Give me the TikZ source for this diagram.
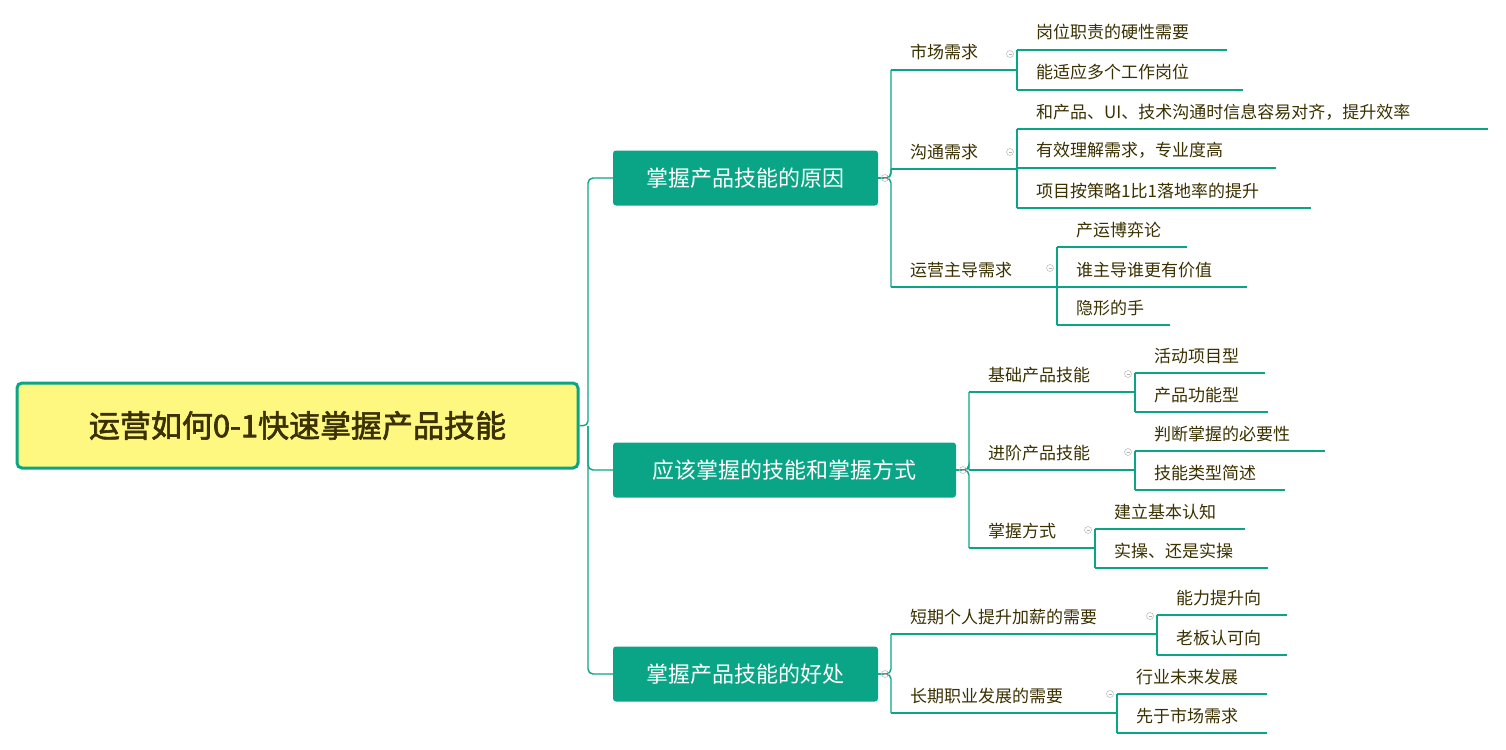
\documentclass[tikz,border=0pt]{standalone}
\usepackage{fontspec}
\setmainfont{Noto Sans CJK SC}[AutoFakeBold=2]
\usetikzlibrary{positioning}
\definecolor{teal1}{HTML}{0AA586}
\definecolor{ink}{HTML}{3A3000}
\tikzset{
  rootbox/.style={draw=teal1,line width=3pt,fill=yellow!50,rounded corners=5pt,
    minimum width=561,minimum height=85,font=\fontsize{31}{36}\selectfont\bfseries,text=ink},
  topic/.style={fill=teal1,rounded corners=3pt,minimum height=55,
    font=\fontsize{22}{26}\selectfont,text=white},
  leaf/.style={font=\fontsize{17}{20}\selectfont,text=ink,inner sep=0pt,anchor=base west},
  branch/.style={draw=teal1,line width=1.4pt,rounded corners=5pt},
  fold/.style={circle,draw=gray!50,line width=0.6pt,minimum size=7,inner sep=0pt,
    path picture={\draw[gray!60,line width=0.6pt] (path picture bounding box.west) ++(2,0) -- ++(3,0);}}
}
\begin{document}
\begin{tikzpicture}[x=1pt,y=-1pt]
\useasboundingbox (0,0) rectangle (1506,749);
% centre and main topics
\node[rootbox] (root) at (297.5,425.5) {运营如何0-1快速掌握产品技能};
\node[topic,minimum width=265] (why) at (745.5,178) {掌握产品技能的原因};
\node[topic,minimum width=343] (how) at (784.5,470) {应该掌握的技能和掌握方式};
\node[topic,minimum width=265] (gain) at (745.5,674) {掌握产品技能的好处};
\coordinate (hub) at (588,426);
\draw[branch] (root.east) -- (hub) |- (why.west);
\draw[branch] (hub) |- (how.west);
\draw[branch] (hub) |- (gain.west);

% underlined items: name/x/y/end/text
\foreach \n/\x/\y/\e/\t in {
  mkt/891/70/1017/市场需求, talk/891/169/1017/沟通需求, lead/891/287/1057/运营主导需求,
  m1/1017/50/1227/岗位职责的硬性需要, m2/1017/90/1243/能适应多个工作岗位,
  t1/1017/129/1488/和产品、UI、技术沟通时信息容易对齐，提升效率,
  t2/1017/168/1276/有效理解需求，专业度高, t3/1017/208/1311/项目按策略1比1落地率的提升,
  l1/1057/247/1187/产运博弈论, l2/1057/287/1247/谁主导谁更有价值, l3/1057/325/1170/隐形的手,
  base/969/392/1135/基础产品技能, adv/969/470/1135/进阶产品技能, way/969/548/1095/掌握方式,
  b1/1135/373/1265/活动项目型, b2/1135/412/1268/产品功能型,
  a1/1135/451/1325/判断掌握的必要性, a2/1135/490/1285/技能类型简述,
  w1/1095/529/1245/建立基本认知, w2/1095/568/1268/实操、还是实操,
  short/891/634/1157/短期个人提升加薪的需要, long/891/713/1117/长期职业发展的需要,
  s1/1157/615/1287/能力提升向, s2/1157/655/1287/老板认可向,
  g1/1117/694/1267/行业未来发展, g2/1117/733/1267/先于市场需求}{
  \coordinate (\n-a) at (\x,\y);
  \coordinate (\n-b) at (\e,\y);
  \draw[branch] (\n-a) -- (\n-b);
  \node[leaf] (\n) at (\x+19,\y-11) {\t};
}

% connectors
\foreach \p/\c in {why/mkt,why/talk,why/lead,how/base,how/adv,how/way,gain/short,gain/long}
  \draw[branch] (\p.east) -| (\c-a);
\foreach \p/\c in {mkt/m1,mkt/m2,talk/t1,talk/t3,lead/l1,lead/l3,
  base/b1,base/b2,adv/a1,adv/a2,way/w1,way/w2,short/s1,short/s2,long/g1,long/g2}
  \draw[branch] (\p-b) -- (\c-a);

% fold marks
\foreach \n/\x/\y in {f1/1010/54,f2/1010/152,f3/1050/268,f4/885/178,f5/963/470,f6/885/674,
  f7/1128/374,f8/1128/452,f9/1088/530,f10/1150/616,f11/1110/694}
  \node[fold] (\n) at (\x,\y) {};
\end{tikzpicture}
\end{document}
